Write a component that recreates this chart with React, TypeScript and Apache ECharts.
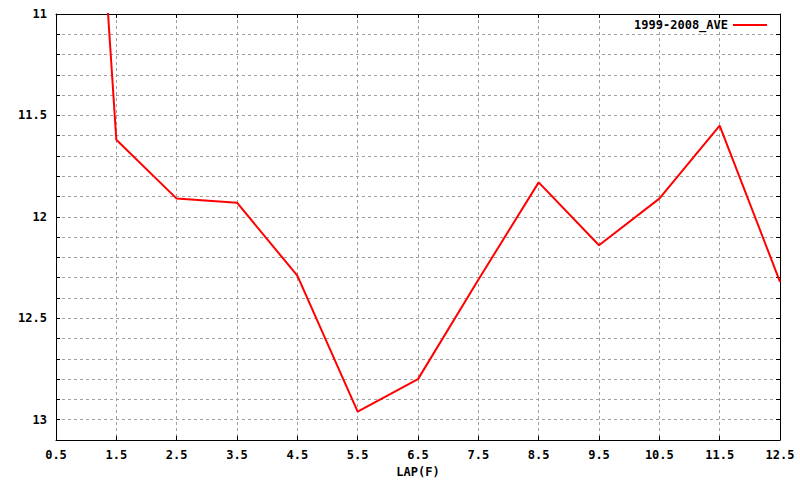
import React, { useEffect, useRef } from "react";
import * as echarts from "echarts";

const xCategories = ["0.5", "1.5", "2.5", "3.5", "4.5", "5.5", "6.5", "7.5", "8.5", "9.5", "10.5", "11.5", "12.5"];
const lapTimes = [7.1, 11.62, 11.91, 11.93, 12.29, 12.96, 12.8, 12.31, 11.83, 12.14, 11.91, 11.55, 12.32];
const seriesName = "1999-2008_AVE";
const xAxisName = "LAP(F)";

const FONT = "'DejaVu Sans Mono', 'Liberation Mono', monospace";

export default function App() {
  const ref = useRef<HTMLDivElement>(null);
  useEffect(() => {
    if (!ref.current) return;
    const chart = echarts.init(ref.current, null, { renderer: "svg" });
    const gridLine = { show: true, lineStyle: { color: "#a0a0a0", type: [3, 3] as any, width: 1 } };
    const yLabelFmt = (v: number) => {
      const d = v * 2;
      return Math.abs(d - Math.round(d)) < 1e-6 ? String(Math.round(v * 10) / 10) : "";
    };
    chart.setOption({
      animation: false,
      backgroundColor: "#ffffff",
      textStyle: { fontFamily: FONT },
      grid: { left: 56, right: 20, top: 14, bottom: 40, containLabel: false, outerBoundsMode: "none" },
      legend: {
        show: true,
        right: 28,
        top: 14,
        align: "right",
        icon: "rect",
        itemWidth: 34,
        itemHeight: 2,
        textStyle: { fontFamily: FONT, fontWeight: "bold", fontSize: 12, color: "#000" },
        data: [seriesName],
      },
      xAxis: [
        {
          type: "category",
          data: xCategories,
          boundaryGap: false,
          position: "bottom",
          name: xAxisName,
          nameLocation: "middle",
          nameGap: 26,
          nameTextStyle: { fontFamily: FONT, fontWeight: "bold", fontSize: 12, color: "#000" },
          axisLine: { show: true, lineStyle: { color: "#000", width: 1 } },
          axisTick: { show: true, inside: true, length: 4, interval: 0, lineStyle: { color: "#000" } },
          axisLabel: { interval: 0, margin: 9, fontFamily: FONT, fontWeight: "bold", fontSize: 12, color: "#000" },
          splitLine: { ...gridLine, interval: 0 },
        },
        {
          type: "category",
          data: xCategories,
          boundaryGap: false,
          position: "top",
          axisLine: { show: true, lineStyle: { color: "#000", width: 1 } },
          axisTick: { show: true, inside: true, length: 4, interval: 0, lineStyle: { color: "#000" } },
          axisLabel: { show: false },
          splitLine: { show: false },
        },
      ],
      yAxis: [
        {
          type: "value",
          inverse: true,
          min: 11,
          max: 13.1,
          interval: 0.1,
          position: "left",
          axisLine: { show: true, lineStyle: { color: "#000", width: 1 } },
          axisTick: { show: true, inside: true, length: 4, lineStyle: { color: "#000" } },
          axisLabel: {
            show: true,
            margin: 9,
            formatter: yLabelFmt,
            fontFamily: FONT,
            fontWeight: "bold",
            fontSize: 12,
            color: "#000",
          },
          splitLine: gridLine,
        },
        {
          type: "value",
          inverse: true,
          min: 11,
          max: 13.1,
          interval: 0.1,
          position: "right",
          axisLine: { show: true, lineStyle: { color: "#000", width: 1 } },
          axisTick: { show: true, inside: true, length: 4, lineStyle: { color: "#000" } },
          axisLabel: { show: false },
          splitLine: { show: false },
        },
      ],
      series: [
        {
          name: seriesName,
          type: "line",
          data: lapTimes,
          xAxisIndex: 0,
          yAxisIndex: 0,
          showSymbol: false,
          symbol: "none",
          clip: true,
          lineStyle: { color: "#ff0000", width: 2 },
          itemStyle: { color: "#ff0000" },
        },
      ],
    });
    return () => chart.dispose();
  }, []);
  return (
    <div
      ref={ref}
      style={{ position: "absolute", left: 0, top: 0, width: 800, height: 480, background: "#fff" }}
    />
  );
}
